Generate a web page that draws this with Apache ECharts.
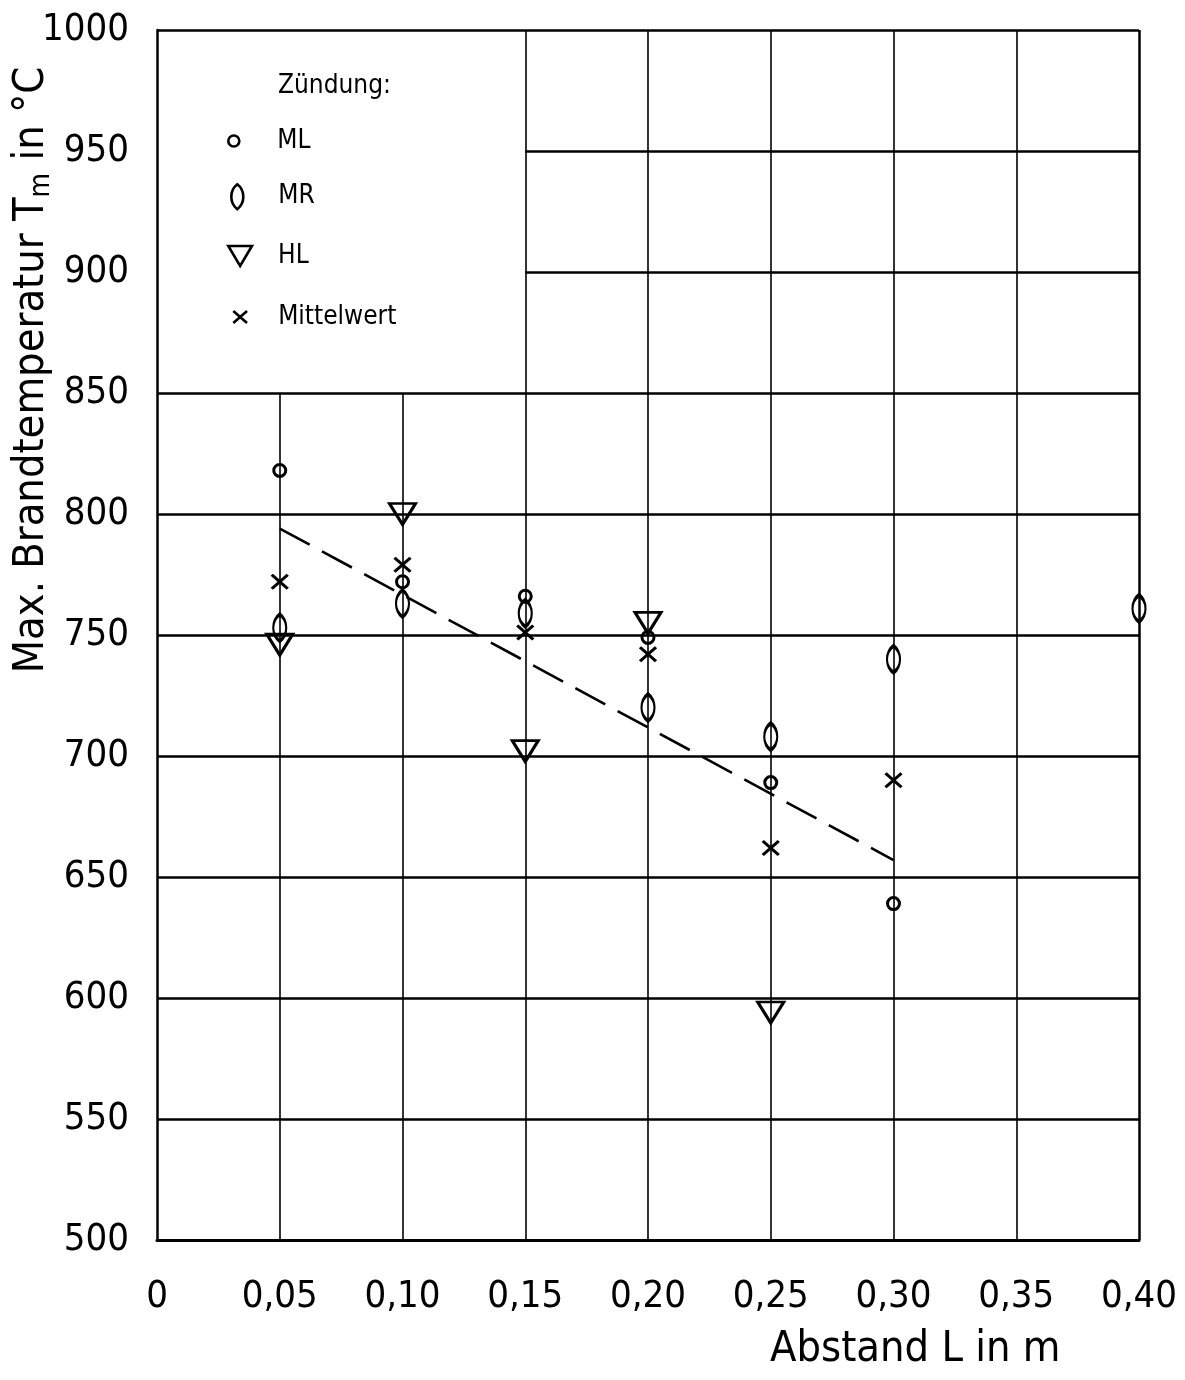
<!DOCTYPE html>
<html>
<head>
<meta charset="utf-8">
<title>Max. Brandtemperatur</title>
<script src="https://cdn.jsdelivr.net/npm/echarts@6/dist/echarts.min.js"></script>
<style>
  html, body { margin: 0; padding: 0; background: #fff; }
  #chart { width: 1185px; height: 1380px; }
</style>
</head>
<body>
<div id="chart"></div>
<script>
// Distances (m) and maximum fire temperatures (°C) per ignition position
const mlDist = [0.05, 0.10, 0.15, 0.20, 0.25, 0.30];
const mlTemp = [818, 772, 766, 749, 689, 639];

const mrDist = [0.05, 0.10, 0.15, 0.20, 0.25, 0.30, 0.40];
const mrTemp = [753, 763, 759, 720, 708, 740, 761];

const hlDist = [0.05, 0.10, 0.15, 0.20, 0.25];
const hlTemp = [746, 800, 702, 755, 594];

const meanDist = [0.05, 0.10, 0.15, 0.20, 0.25, 0.30];
const meanTemp = [772, 779, 751, 742, 662, 690];

// Trend line end points
const trendDist = [0.05, 0.30];
const trendTemp = [794, 657];

// Axis ticks
const xTicks = [0, 0.05, 0.10, 0.15, 0.20, 0.25, 0.30, 0.35, 0.40];
const yTicks = [500, 550, 600, 650, 700, 750, 800, 850, 900, 950, 1000];

// Grid layout: horizontal lines across the full width, lines that start at 0.15
// (right of the legend box), vertical lines through full height and those below 850
const hFull = [550, 600, 650, 700, 750, 800, 850, 1000];
const hFromBox = [900, 950];
const vFull = [0.15, 0.20, 0.25, 0.30, 0.35, 0.40];
const vBelowBox = [0.05, 0.10];

const FONT = '"DejaVu Sans Condensed", "DejaVu Sans", sans-serif';

const pair = (xs, ys) => xs.map((x, i) => [x, ys[i]]);

const seg = (x1, y1, x2, y2, w) => [
  { coord: [x1, y1], lineStyle: { width: w } },
  { coord: [x2, y2] }
];

const gridSegments = [];
hFull.forEach(v => gridSegments.push(seg(xTicks[0], v, xTicks[xTicks.length - 1], v, 2.5)));
hFromBox.forEach(v => gridSegments.push(seg(0.15, v, xTicks[xTicks.length - 1], v, 2.5)));
vFull.forEach(v => gridSegments.push(seg(v, yTicks[0], v, yTicks[yTicks.length - 1], v === 0.40 ? 2.5 : 1.6)));
vBelowBox.forEach(v => gridSegments.push(seg(v, yTicks[0], v, 850, 1.6)));

const SYM_ML = 'circle';
const SYM_MR = 'path://M0,0 C9,7 9,21 0,28 C-9,21 -9,7 0,0 Z';
const SYM_HL = 'path://M0,0 L26,0 L13,22 Z';
const SYM_X = 'path://M0,0 L16,14 M16,0 L0,14';

const hollow = () => ({
  color: 'rgba(255,255,255,0)',
  borderColor: '#000',
  borderWidth: 3,
  opacity: 1
});

// One legend block per entry so every key symbol keeps its own size
const legendText = pad => ({ fontFamily: FONT, fontSize: 26, color: '#000', padding: [0, 0, 0, pad] });
const legendEntry = (name, left, top, w, h, pad) => ({
  data: [name],
  left: left,
  top: top,
  padding: 0,
  itemWidth: w,
  itemHeight: h,
  selectedMode: false,
  itemStyle: { color: 'rgba(255,255,255,0)', borderColor: '#000', borderWidth: 2.6 },
  textStyle: legendText(pad)
});

const chart = echarts.init(document.getElementById('chart'), null, { renderer: 'canvas' });

chart.setOption({
  backgroundColor: '#fff',
  animation: false,
  grid: { left: 157, right: 46, top: 30, bottom: 140, containLabel: false },
  title: {
    text: 'Zündung:',
    left: 273,
    top: 68,
    textStyle: { fontFamily: FONT, fontSize: 26, fontWeight: 'normal', color: '#000' }
  },
  legend: [
    legendEntry('ML', 227, 128, 11, 11, 33),
    legendEntry('MR', 230, 183, 12, 25, 30),
    legendEntry('HL', 227, 243, 24, 20, 21),
    legendEntry('Mittelwert', 232, 304, 14, 12, 26)
  ],
  xAxis: {
    type: 'value',
    min: xTicks[0],
    max: xTicks[xTicks.length - 1],
    interval: 0.05,
    axisLine: { show: true, lineStyle: { color: '#000', width: 3 } },
    axisTick: { show: false },
    splitLine: { show: false },
    axisLabel: {
      margin: 38,
      fontFamily: FONT,
      fontSize: 38,
      color: '#000',
      formatter: v => (v === 0 ? '0' : v.toFixed(2).replace('.', ','))
    }
  },
  yAxis: {
    type: 'value',
    min: yTicks[0],
    max: yTicks[yTicks.length - 1],
    interval: 50,
    axisLine: { show: true, lineStyle: { color: '#000', width: 2.5 } },
    axisTick: { show: false },
    splitLine: { show: false },
    axisLabel: { margin: 28, fontFamily: FONT, fontSize: 38, color: '#000', formatter: v => String(v) }
  },
  graphic: [
    {
      type: 'text',
      x: 32,
      y: 370,
      rotation: Math.PI / 2,
      style: {
        text: '{a|Max. Brandtemperatur T}{s|m}{a| in °C}',
        align: 'center',
        verticalAlign: 'middle',
        fill: '#000',
        rich: {
          a: { fontFamily: FONT, fontSize: 43, fill: '#000', lineHeight: 48, verticalAlign: 'middle' },
          s: { fontFamily: FONT, fontSize: 28, fill: '#000', lineHeight: 48, verticalAlign: 'bottom', padding: [16, 0, 0, 0] }
        }
      }
    },
    {
      type: 'text',
      x: 770,
      y: 1350,
      style: {
        text: 'Abstand L in m',
        fontFamily: FONT,
        fontSize: 43,
        fill: '#000',
        align: 'left',
        verticalAlign: 'middle'
      }
    }
  ],
  series: [
    {
      name: 'Gitter',
      type: 'line',
      data: [],
      silent: true,
      markLine: {
        silent: true,
        symbol: ['none', 'none'],
        label: { show: false },
        lineStyle: { color: '#000', type: 'solid' },
        data: gridSegments
      }
    },
    {
      name: 'Trend',
      type: 'line',
      data: pair(trendDist, trendTemp),
      showSymbol: false,
      symbol: 'none',
      lineStyle: { color: '#000', width: 2.6, type: [34, 14] },
      z: 3
    },
    {
      name: 'ML',
      type: 'scatter',
      data: pair(mlDist, mlTemp),
      symbol: SYM_ML,
      symbolSize: 12,
      itemStyle: hollow(),
      z: 5
    },
    {
      name: 'MR',
      type: 'scatter',
      data: pair(mrDist, mrTemp),
      symbol: SYM_MR,
      symbolSize: [13, 27],
      itemStyle: hollow(),
      z: 5
    },
    {
      name: 'HL',
      type: 'scatter',
      data: pair(hlDist, hlTemp),
      symbol: SYM_HL,
      symbolSize: [26, 21],
      itemStyle: hollow(),
      z: 5
    },
    {
      name: 'Mittelwert',
      type: 'scatter',
      data: pair(meanDist, meanTemp),
      symbol: SYM_X,
      symbolSize: [16, 14],
      itemStyle: hollow(),
      z: 5
    }
  ]
});
</script>
</body>
</html>
